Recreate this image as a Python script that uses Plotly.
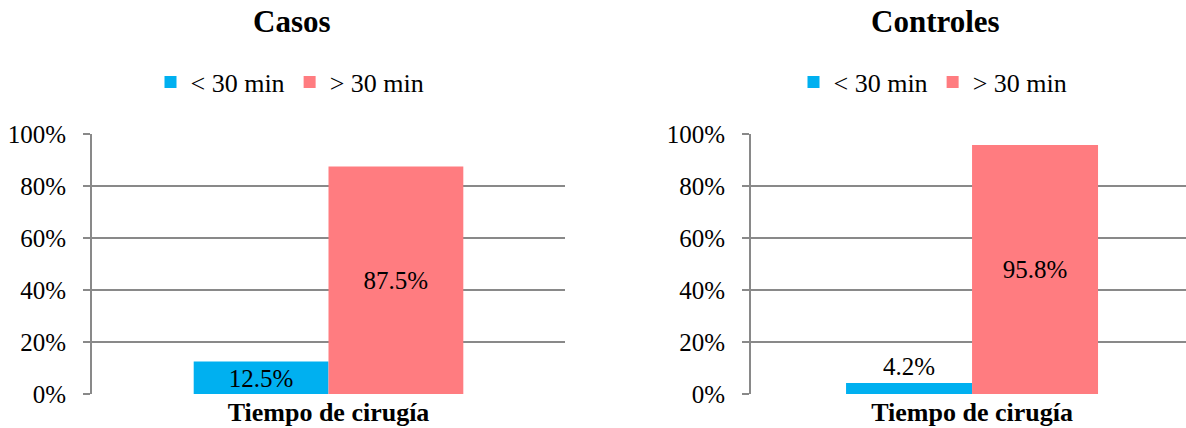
import plotly.graph_objects as go

categories = ["Tiempo de cirugía"]
category_labels = ["<b>Tiempo de cirugía</b>"]
series_names = ["< 30 min", "> 30 min"]
casos_lt30 = [0.125]
casos_gt30 = [0.875]
controles_lt30 = [0.042]
controles_gt30 = [0.958]
panel_titles = ["Casos", "Controles"]
tick_vals = [0, 0.2, 0.4, 0.6, 0.8, 1.0]
tick_text = ["0%", "20%", "40%", "60%", "80%", "100%"]

BLUE = "#00B0F0"
RED = "#FF7C80"
GRID = "#898989"
FONT = "Liberation Serif"

W, H = 1186, 428

fig = go.Figure()

def add_bar(name, y, color, xa, ya, legend, textpos):
    fig.add_trace(go.Bar(
        x=categories, y=y, name=name, marker=dict(color=color, line=dict(width=0)),
        xaxis=xa, yaxis=ya, legend=legend,
        texttemplate="%{y:.1%}", textposition=textpos,
        insidetextanchor="end" if textpos == "inside" and y[0] < 0.3 else "middle",
        textfont=dict(family=FONT, size=25, color="black"),
        insidetextfont=dict(family=FONT, size=25, color="black"),
        outsidetextfont=dict(family=FONT, size=25, color="black"),
        cliponaxis=False, constraintext="none",
    ))

add_bar(series_names[0], casos_lt30, BLUE, "x", "y", "legend", "inside")
add_bar(series_names[1], casos_gt30, RED, "x", "y", "legend", "inside")
add_bar(series_names[0], controles_lt30, BLUE, "x2", "y2", "legend2", "outside")
add_bar(series_names[1], controles_gt30, RED, "x2", "y2", "legend2", "inside")

ydom = [(H - 394) / H, (H - 134) / H]

yaxis_common = dict(
    range=[0, 1], tickvals=tick_vals, ticktext=tick_text,
    showgrid=True, gridcolor=GRID, gridwidth=2,
    showline=True, linecolor=GRID, linewidth=2,
    ticks="outside", ticklen=7, tickcolor=GRID, tickwidth=2,
    tickfont=dict(family=FONT, size=25, color="black"),
    ticklabelstandoff=12, zeroline=False, automargin=False,
    domain=ydom,
)
xaxis_common = dict(
    type="category", showgrid=False, showline=False, ticks="",
    tickvals=categories, ticktext=category_labels,
    tickfont=dict(family=FONT, size=26, color="black"),
    automargin=False, zeroline=False,
)

fig.update_layout(
    width=W, height=H,
    font=dict(family=FONT, size=25, color="black"),
    margin=dict(l=0, r=0, t=0, b=0),
    paper_bgcolor="white", plot_bgcolor="white",
    barmode="group", bargap=0.43, bargroupgap=0,
    xaxis=dict(domain=[92 / W, 565 / W], range=[-0.5, 0.5], anchor="y", **xaxis_common),
    yaxis=dict(anchor="x", **yaxis_common),
    xaxis2=dict(domain=[751 / W, 1.0], range=[-0.5, 0.484], anchor="y2", **xaxis_common),
    yaxis2=dict(anchor="x2", **yaxis_common),
    legend=dict(orientation="h", x=290 / W, xanchor="center", y=(H - 82) / H, yanchor="middle",
                font=dict(family=FONT, size=26, color="black"), bgcolor="rgba(0,0,0,0)"),
    legend2=dict(orientation="h", x=933 / W, xanchor="center", y=(H - 82) / H, yanchor="middle",
                 font=dict(family=FONT, size=26, color="black"), bgcolor="rgba(0,0,0,0)"),
    annotations=[
        dict(text="<b>" + panel_titles[0] + "</b>", x=292 / W, y=(H - 22) / H, xref="paper", yref="paper",
             showarrow=False, xanchor="center", yanchor="middle",
             font=dict(family=FONT, size=31, color="black")),
        dict(text="<b>" + panel_titles[1] + "</b>", x=935 / W, y=(H - 22) / H, xref="paper", yref="paper",
             showarrow=False, xanchor="center", yanchor="middle",
             font=dict(family=FONT, size=31, color="black")),
    ],
    showlegend=True,
)

fig.write_html("out.html")
